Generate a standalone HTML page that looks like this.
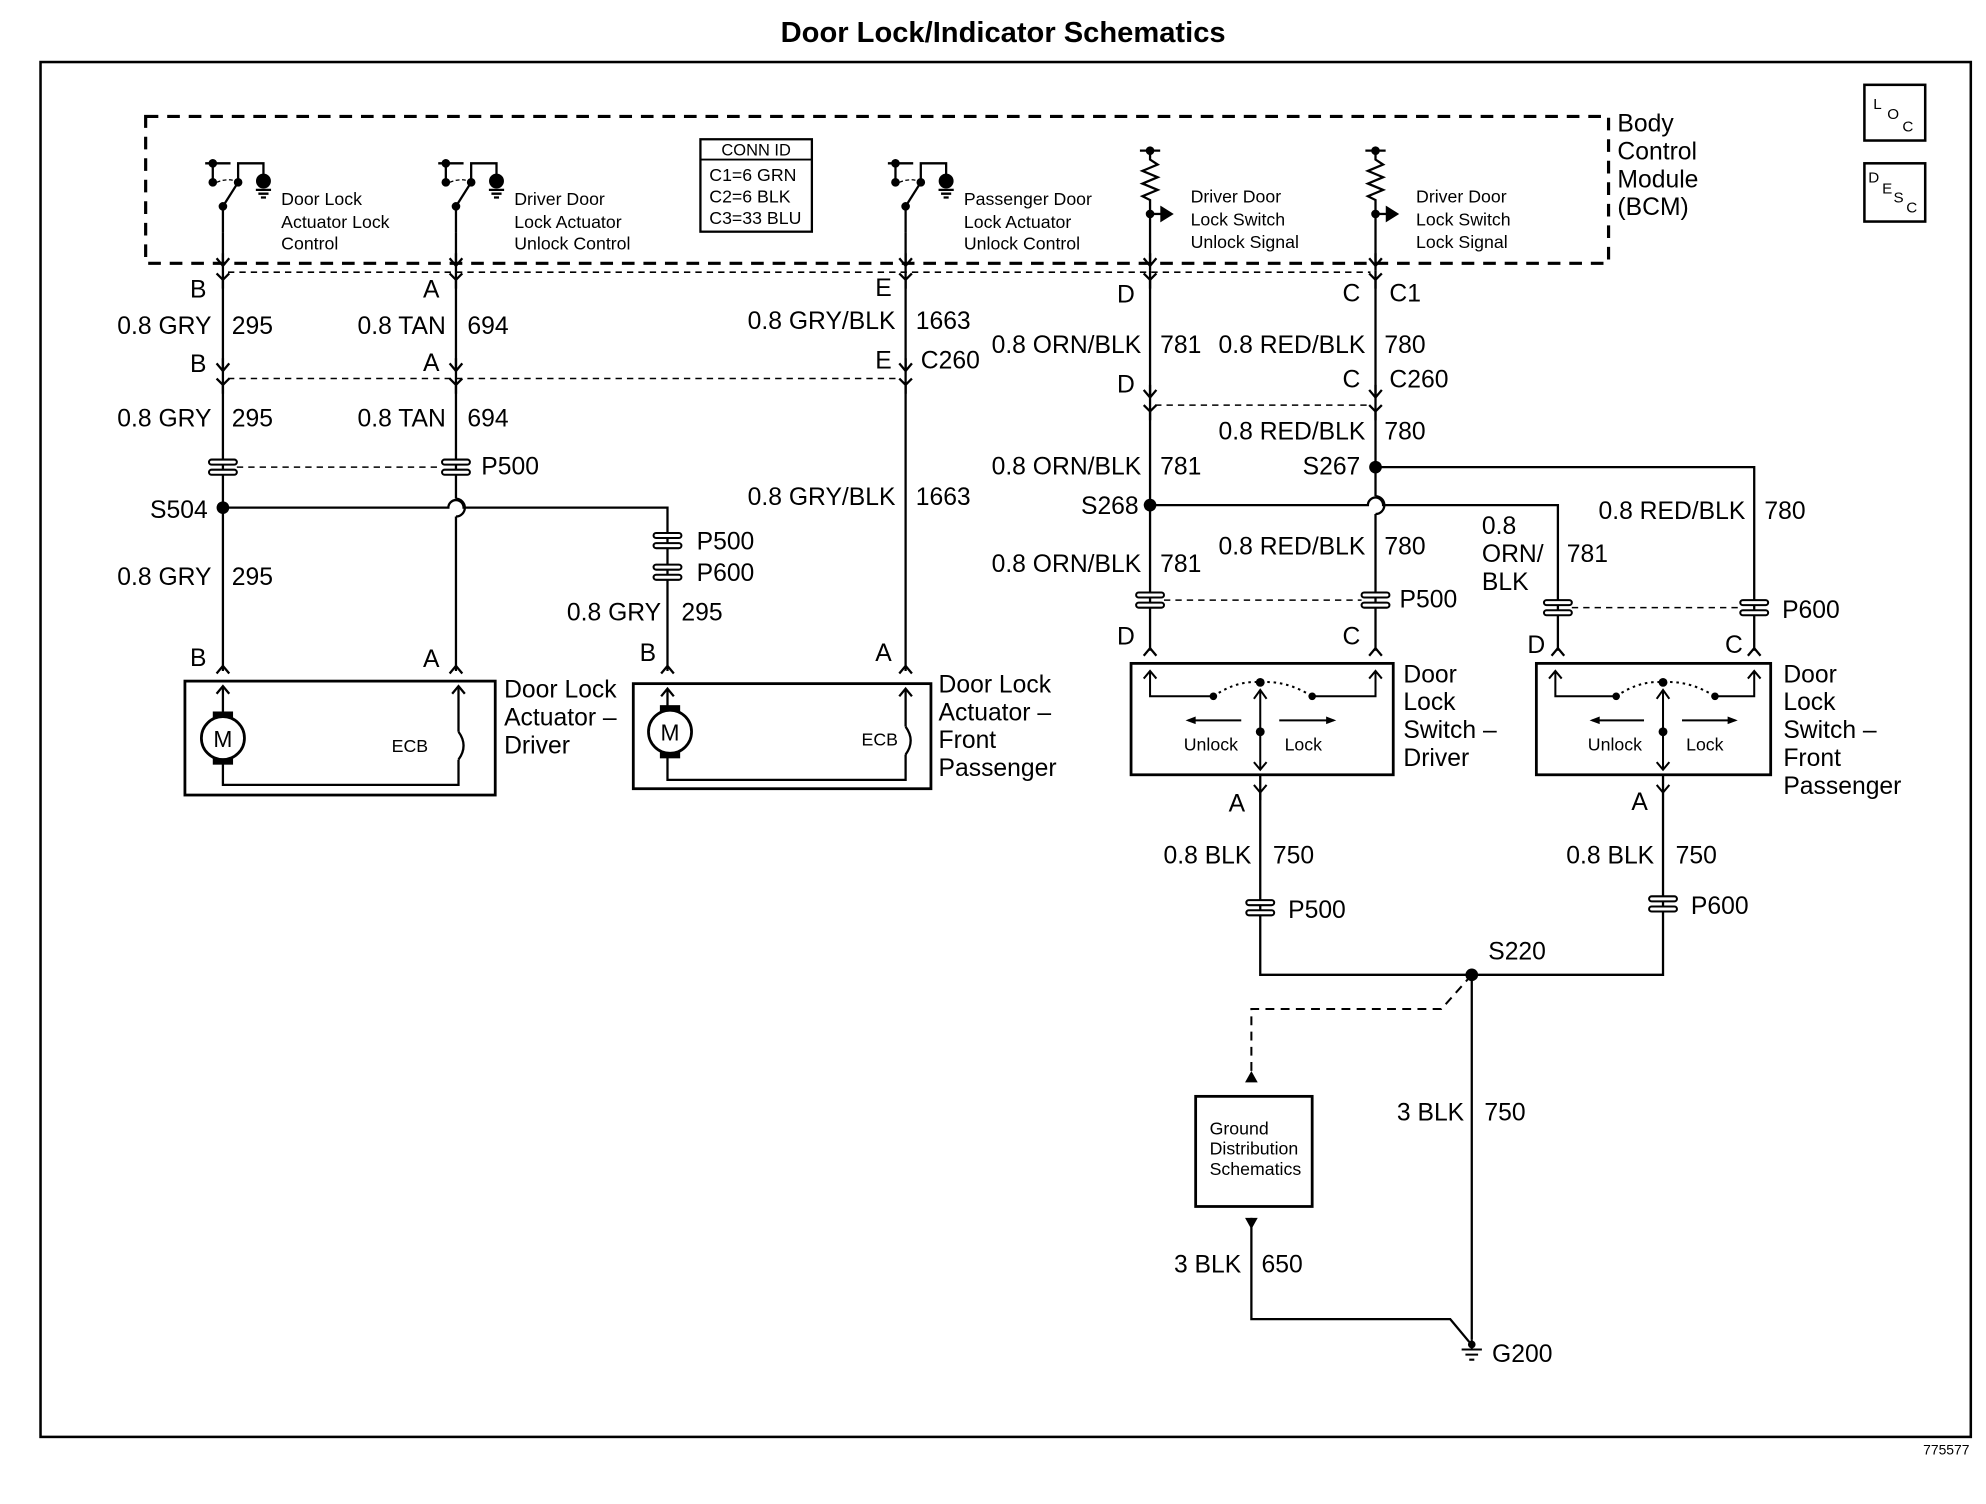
<!DOCTYPE html>
<html><head><meta charset="utf-8"><style>
html,body{margin:0;padding:0;background:#fff;}
svg{display:block;}
text{font-family:"Liberation Sans",Arial,sans-serif;fill:#000;}
.w{font-size:19.5px;}
.s{font-size:14px;}
.r{text-anchor:end;}
</style></head><body>
<svg width="1986" height="1504" viewBox="0 0 1568 1188" preserveAspectRatio="none" xmlns="http://www.w3.org/2000/svg">
<defs>
<g id="fy" fill="none" stroke="#000" stroke-width="1.8"><path d="M-5,-12 L0,-6 L5,-12 M0,-16 L0,-6"/><path d="M-5,0 L0,5 L5,0 M0,5 L0,12"/></g>
<g id="up" fill="none" stroke="#000" stroke-width="1.8"><path d="M-5,6 L0,0 L5,6"/></g>
<g id="pc" fill="#fff" stroke="#000" stroke-width="1.6"><rect x="-11" y="-6" width="22" height="4" rx="2"/><rect x="-11" y="2" width="22" height="4" rx="2"/></g>
<g id="sw" fill="#000" stroke="#000" stroke-width="1.8">
<path d="M-14,-47 L6,-47 M-8,-47 L-8,-35" fill="none"/><circle cx="-8" cy="-47" r="2.5"/><circle cx="-8" cy="-32" r="2.5"/>
<path d="M-5,-32 Q5,-36 12,-32" fill="none" stroke-dasharray="3,2" stroke-width="1"/>
<path d="M12,-32 L12,-47 L32,-47 L32,-38" fill="none"/><circle cx="12" cy="-32" r="2.5"/><circle cx="32" cy="-33" r="5"/>
<path d="M26,-26 L38,-26 M28,-23 L36,-23 M30,-20 L34,-20" fill="none"/>
<path d="M0,-13 L12,-32" fill="none"/><circle cx="0" cy="-13" r="2.5"/><path d="M0,-13 L0,8" fill="none"/>
</g>
<g id="rs" fill="none" stroke="#000" stroke-width="1.8">
<path d="M-8,-87 L8,-87 M0,-87 L0,-80 L6,-76 L-6,-71 L6,-66 L-6,-61 L6,-56 L-6,-51 L0,-48 L0,8"/><circle cx="0" cy="-87" r="2.5" fill="#000"/><circle cx="0" cy="-37" r="2.5" fill="#000"/>
<path d="M0,-37 L10,-37"/><path d="M9,-42 L17,-37 L9,-32 Z" fill="#000"/>
</g>
</defs>

<text x="792" y="33" font-size="23" font-weight="bold" text-anchor="middle">Door Lock/Indicator Schematics</text>
<rect x="32" y="49" width="1524" height="1086" fill="none" stroke="#000" stroke-width="2"/>
<text x="1555" y="1149" font-size="11" text-anchor="end">775577</text>

<rect x="1472" y="67" width="48" height="44" fill="none" stroke="#000" stroke-width="2"/>
<text x="1479" y="86" font-size="12">L</text><text x="1490" y="94" font-size="12">O</text><text x="1502" y="104" font-size="12">C</text>
<rect x="1472" y="129" width="48" height="46" fill="none" stroke="#000" stroke-width="2"/>
<text x="1475" y="144" font-size="12">D</text><text x="1486" y="153" font-size="12">E</text><text x="1495" y="160" font-size="12">S</text><text x="1505" y="168" font-size="12">C</text>

<rect x="115" y="92" width="1155" height="116" fill="none" stroke="#000" stroke-width="2.5" stroke-dasharray="10,7"/>
<text class="w" x="1277" y="104">Body</text><text class="w" x="1277" y="126">Control</text><text class="w" x="1277" y="148">Module</text><text class="w" x="1277" y="170">(BCM)</text>

<rect x="553" y="110" width="88" height="73" fill="none" stroke="#000" stroke-width="1.8"/>
<line x1="553" y1="126" x2="641" y2="126" stroke="#000" stroke-width="1.5"/>
<text class="s" x="597" y="123" text-anchor="middle" style="font-size:13px">CONN ID</text>
<text class="s" x="560" y="143">C1=6 GRN</text><text class="s" x="560" y="160">C2=6 BLK</text><text class="s" x="560" y="177">C3=33 BLU</text>

<use href="#sw" x="176" y="176"/><use href="#sw" x="360" y="176"/><use href="#sw" x="715" y="176"/>
<use href="#rs" x="908" y="206"/><use href="#rs" x="1086" y="206"/>
<text class="s" x="222" y="162">Door Lock</text><text class="s" x="222" y="180">Actuator Lock</text><text class="s" x="222" y="197">Control</text>
<text class="s" x="406" y="162">Driver Door</text><text class="s" x="406" y="180">Lock Actuator</text><text class="s" x="406" y="197">Unlock Control</text>
<text class="s" x="761" y="162">Passenger Door</text><text class="s" x="761" y="180">Lock Actuator</text><text class="s" x="761" y="197">Unlock Control</text>
<text class="s" x="940" y="160">Driver Door</text><text class="s" x="940" y="178">Lock Switch</text><text class="s" x="940" y="196">Unlock Signal</text>
<text class="s" x="1118" y="160">Driver Door</text><text class="s" x="1118" y="178">Lock Switch</text><text class="s" x="1118" y="196">Lock Signal</text>

<g stroke="#000" stroke-width="1.2" fill="none" stroke-dasharray="5,4">
<line x1="180" y1="215" x2="1082" y2="215"/>
<line x1="180" y1="299" x2="711" y2="299"/>
<line x1="912" y1="320" x2="1082" y2="320"/>
<line x1="187" y1="369" x2="349" y2="369"/>
<line x1="919" y1="474" x2="1075" y2="474"/>
<line x1="1241" y1="480" x2="1374" y2="480"/>
<path d="M1162,770 L1138,797 L988,797 L988,850" stroke-width="1.6" stroke-dasharray="7,5"/>
</g>

<g stroke="#000" stroke-width="1.8" fill="none">
<line x1="176" y1="184" x2="176" y2="530"/>
<line x1="360" y1="184" x2="360" y2="394"/><path d="M360,394 A6,6 0 0 1 360,408"/><line x1="360" y1="408" x2="360" y2="530"/>
<line x1="715" y1="184" x2="715" y2="530"/>
<line x1="908" y1="214" x2="908" y2="514"/>
<line x1="1086" y1="214" x2="1086" y2="392"/><path d="M1086,392 A6,6 0 0 1 1086,406"/><line x1="1086" y1="406" x2="1086" y2="514"/>
<path d="M176,401 L354,401 A6,6 0 0 1 366,401 L527,401 L527,530"/>
<path d="M908,399 L1080,399 A6,6 0 0 1 1092,399 L1230,399 L1230,514"/>
<path d="M1086,369 L1385,369 L1385,514"/>
<path d="M995,612 L995,770 L1313,770 L1313,612"/>
<line x1="1162" y1="770" x2="1162" y2="1058"/>
<path d="M988,962 L988,1042 L1145,1042 L1160,1060"/>
</g>
<g fill="#000"><circle cx="176" cy="401" r="5"/><circle cx="908" cy="399" r="5"/><circle cx="1086" cy="369" r="5"/><circle cx="1162" cy="770" r="5"/></g>

<use href="#fy" x="176" y="216"/><use href="#fy" x="360" y="216"/><use href="#fy" x="715" y="216"/><use href="#fy" x="908" y="216"/><use href="#fy" x="1086" y="216"/>
<use href="#fy" x="176" y="299"/><use href="#fy" x="360" y="299"/><use href="#fy" x="715" y="299"/>
<use href="#fy" x="908" y="320"/><use href="#fy" x="1086" y="320"/>
<use href="#pc" x="176" y="369"/><use href="#pc" x="360" y="369"/>
<use href="#pc" x="527" y="427"/><use href="#pc" x="527" y="452"/>
<use href="#pc" x="908" y="474"/><use href="#pc" x="1086" y="474"/>
<use href="#pc" x="1230" y="480"/><use href="#pc" x="1385" y="480"/>
<use href="#pc" x="995" y="717"/><use href="#pc" x="1313" y="714"/>
<use href="#up" x="176" y="526"/><use href="#up" x="360" y="526"/><use href="#up" x="527" y="526"/><use href="#up" x="715" y="526"/>
<use href="#up" x="908" y="512"/><use href="#up" x="1086" y="512"/><use href="#up" x="1230" y="512"/><use href="#up" x="1385" y="512"/>
<path d="M990,620 L995,626 L1000,620 M995,626 L995,632 M1308,620 L1313,626 L1318,620 M1313,626 L1313,632" stroke="#000" stroke-width="1.6" fill="none"/>

<g>
<text class="w r" x="163" y="235">B</text>
<text class="w r" x="167" y="264">0.8 GRY</text><text class="w" x="183" y="264">295</text>
<text class="w r" x="163" y="294">B</text>
<text class="w r" x="167" y="337">0.8 GRY</text><text class="w" x="183" y="337">295</text>
<text class="w r" x="164" y="409">S504</text>
<text class="w r" x="167" y="462">0.8 GRY</text><text class="w" x="183" y="462">295</text>
<text class="w r" x="163" y="526">B</text>
<text class="w r" x="347" y="235">A</text>
<text class="w r" x="352" y="264">0.8 TAN</text><text class="w" x="369" y="264">694</text>
<text class="w r" x="347" y="293">A</text>
<text class="w r" x="352" y="337">0.8 TAN</text><text class="w" x="369" y="337">694</text>
<text class="w" x="380" y="375">P500</text>
<text class="w r" x="347" y="527">A</text>
<text class="w" x="550" y="434">P500</text><text class="w" x="550" y="459">P600</text>
<text class="w r" x="522" y="490">0.8 GRY</text><text class="w" x="538" y="490">295</text>
<text class="w r" x="518" y="522">B</text>
<text class="w r" x="704" y="234">E</text>
<text class="w r" x="707" y="260">0.8 GRY/BLK</text><text class="w" x="723" y="260">1663</text>
<text class="w r" x="704" y="291">E</text><text class="w" x="727" y="291">C260</text>
<text class="w r" x="707" y="399">0.8 GRY/BLK</text><text class="w" x="723" y="399">1663</text>
<text class="w r" x="704" y="522">A</text>
<text class="w r" x="896" y="239">D</text>
<text class="w r" x="901" y="279">0.8 ORN/BLK</text><text class="w" x="916" y="279">781</text>
<text class="w r" x="896" y="310">D</text>
<text class="w r" x="901" y="375">0.8 ORN/BLK</text><text class="w" x="916" y="375">781</text>
<text class="w r" x="899" y="406">S268</text>
<text class="w r" x="901" y="452">0.8 ORN/BLK</text><text class="w" x="916" y="452">781</text>
<text class="w r" x="896" y="509">D</text>
<text class="w r" x="1074" y="238">C</text><text class="w" x="1097" y="238">C1</text>
<text class="w r" x="1078" y="279">0.8 RED/BLK</text><text class="w" x="1093" y="279">780</text>
<text class="w r" x="1074" y="306">C</text><text class="w" x="1097" y="306">C260</text>
<text class="w r" x="1078" y="347">0.8 RED/BLK</text><text class="w" x="1093" y="347">780</text>
<text class="w r" x="1074" y="375">S267</text>
<text class="w r" x="1078" y="438">0.8 RED/BLK</text><text class="w" x="1093" y="438">780</text>
<text class="w" x="1105" y="480">P500</text>
<text class="w r" x="1074" y="509">C</text>
<text class="w" x="1170" y="422">0.8</text><text class="w" x="1170" y="444">ORN/</text><text class="w" x="1170" y="466">BLK</text><text class="w" x="1237" y="444">781</text>
<text class="w r" x="1378" y="410">0.8 RED/BLK</text><text class="w" x="1393" y="410">780</text>
<text class="w" x="1407" y="488">P600</text>
<text class="w r" x="1220" y="516">D</text><text class="w r" x="1376" y="516">C</text>
<text class="w r" x="983" y="641">A</text>
<text class="w r" x="988" y="682">0.8 BLK</text><text class="w" x="1005" y="682">750</text>
<text class="w" x="1017" y="725">P500</text>
<text class="w r" x="1301" y="640">A</text>
<text class="w r" x="1306" y="682">0.8 BLK</text><text class="w" x="1323" y="682">750</text>
<text class="w" x="1335" y="722">P600</text>
<text class="w" x="1175" y="758">S220</text>
<text class="w r" x="1156" y="885">3 BLK</text><text class="w" x="1172" y="885">750</text>
<text class="w r" x="980" y="1005">3 BLK</text><text class="w" x="996" y="1005">650</text>
<text class="w" x="1178" y="1076">G200</text>
</g>

<rect x="146" y="538" width="245" height="90" fill="none" stroke="#000" stroke-width="2.2"/>
<g stroke="#000" stroke-width="1.8" fill="none">
<path d="M176,542 L176,566 M176,600 L176,620 L362,620 L362,600 M362,578 L362,542"/>
<path d="M362,578 Q370,589 362,600"/>
<path d="M171,548 L176,542 L181,548 M357,548 L362,542 L367,548"/>
<circle cx="176" cy="583" r="17" stroke-width="2.2"/>
</g>
<rect x="168" y="562" width="16" height="5" fill="#000"/><rect x="168" y="599" width="16" height="5" fill="#000"/>
<text x="176" y="590" font-size="18" text-anchor="middle">M</text>
<text x="338" y="594" font-size="14" text-anchor="end">ECB</text>
<text class="w" x="398" y="551">Door Lock</text><text class="w" x="398" y="573">Actuator –</text><text class="w" x="398" y="595">Driver</text>

<rect x="500" y="540" width="235" height="83" fill="none" stroke="#000" stroke-width="2.2"/>
<g stroke="#000" stroke-width="1.8" fill="none">
<path d="M527,544 L527,561 M527,595 L527,616 L715,616 L715,596 M715,574 L715,544"/>
<path d="M715,574 Q723,585 715,596"/>
<path d="M522,550 L527,544 L532,550 M710,550 L715,544 L720,550"/>
<circle cx="529" cy="578" r="17" stroke-width="2.2"/>
</g>
<rect x="521" y="557" width="16" height="5" fill="#000"/><rect x="521" y="594" width="16" height="5" fill="#000"/>
<text x="529" y="585" font-size="18" text-anchor="middle">M</text>
<text x="709" y="589" font-size="14" text-anchor="end">ECB</text>
<text class="w" x="741" y="547">Door Lock</text><text class="w" x="741" y="569">Actuator –</text><text class="w" x="741" y="591">Front</text><text class="w" x="741" y="613">Passenger</text>

<rect x="893" y="524" width="207" height="88" fill="none" stroke="#000" stroke-width="2.2"/>
<g stroke="#000" stroke-width="1.6" fill="none">
<path d="M908,530 L908,550 L958,550 M1036,550 L1086,550 L1086,530 M903,536 L908,530 L913,536 M1081,536 L1086,530 L1091,536"/>
<path d="M958,550 Q977,537 995,539 Q1015,537 1036,550" stroke-dasharray="2,3"/>
<path d="M995,545 L995,608 M990,552 L995,545 L1000,552 M990,602 L995,608 L1000,602"/>
<path d="M938,569 L980,569 M1010,569 L1053,569"/>
</g>
<g fill="#000"><circle cx="958" cy="550" r="3"/><circle cx="1036" cy="550" r="3"/><circle cx="995" cy="539" r="3.5"/><circle cx="995" cy="578" r="3.5"/>
<path d="M936,569 L944,566 L944,572Z"/><path d="M1055,569 L1047,566 L1047,572Z"/></g>
<text class="s" x="956" y="593" text-anchor="middle">Unlock</text><text class="s" x="1029" y="593" text-anchor="middle">Lock</text>
<text class="w" x="1108" y="539">Door</text><text class="w" x="1108" y="561">Lock</text><text class="w" x="1108" y="583">Switch –</text><text class="w" x="1108" y="605">Driver</text>

<rect x="1213" y="524" width="185" height="88" fill="none" stroke="#000" stroke-width="2.2"/>
<g stroke="#000" stroke-width="1.6" fill="none">
<path d="M1228,530 L1228,550 L1276,550 M1354,550 L1385,550 L1385,530 M1223,536 L1228,530 L1233,536 M1380,536 L1385,530 L1390,536"/>
<path d="M1276,550 Q1295,537 1313,539 Q1333,537 1354,550" stroke-dasharray="2,3"/>
<path d="M1313,545 L1313,608 M1308,552 L1313,545 L1318,552 M1308,602 L1313,608 L1318,602"/>
<path d="M1257,569 L1298,569 M1328,569 L1370,569"/>
</g>
<g fill="#000"><circle cx="1276" cy="550" r="3"/><circle cx="1354" cy="550" r="3"/><circle cx="1313" cy="539" r="3.5"/><circle cx="1313" cy="578" r="3.5"/>
<path d="M1255,569 L1263,566 L1263,572Z"/><path d="M1372,569 L1364,566 L1364,572Z"/></g>
<text class="s" x="1275" y="593" text-anchor="middle">Unlock</text><text class="s" x="1346" y="593" text-anchor="middle">Lock</text>
<text class="w" x="1408" y="539">Door</text><text class="w" x="1408" y="561">Lock</text><text class="w" x="1408" y="583">Switch –</text><text class="w" x="1408" y="605">Front</text><text class="w" x="1408" y="627">Passenger</text>

<rect x="944" y="866" width="92" height="87" fill="none" stroke="#000" stroke-width="2.2"/>
<text class="s" x="955" y="896">Ground</text><text class="s" x="955" y="912">Distribution</text><text class="s" x="955" y="928">Schematics</text>
<path d="M983,855 L988,846 L993,855Z M983,962 L988,971 L993,962Z" fill="#000"/>
<path d="M1162,1058 L1162,1066 M1154,1066 L1170,1066 M1157,1070 L1167,1070 M1160,1074 L1164,1074" stroke="#000" stroke-width="1.6"/>
<circle cx="1162" cy="1062" r="3" fill="#000"/>
</svg>
</body></html>
